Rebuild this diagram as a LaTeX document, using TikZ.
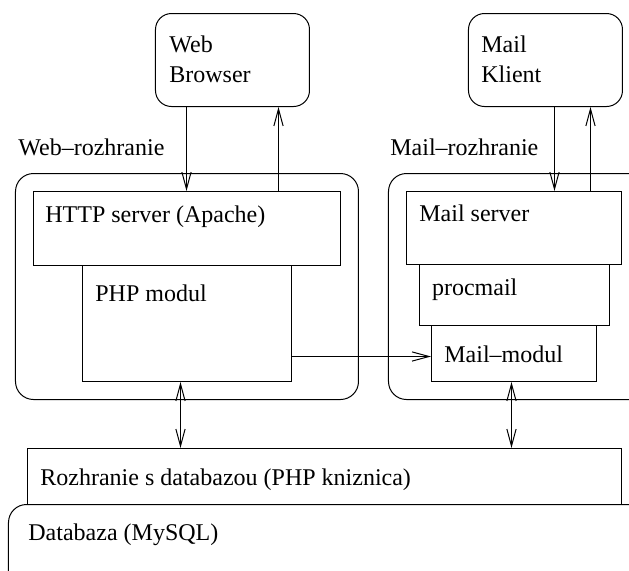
\documentclass[tikz,border=0pt]{standalone}
\usepackage{fontspec}
\setmainfont{Liberation Serif}
\usetikzlibrary{arrows.meta,fit}
\begin{document}
\begin{tikzpicture}[x=0.5pt,y=-0.5pt,
  box/.style={draw, line width=0.5pt, inner sep=0pt},
  rbox/.style={box, rounded corners=9pt},
  lbl/.style={anchor=base west, inner sep=0pt, font=\fontsize{12}{15}\selectfont},
  onearrow/.style={-{Straight Barb[length=8.5pt,width=4.6pt]}, line width=0.5pt},
  twoarrow/.style={{Straight Barb[length=8.5pt,width=4.6pt]}-{Straight Barb[length=8.5pt,width=4.6pt]}, line width=0.5pt}]
  % page frame; the interface and database boxes run off its edge
  \path[use as bounding box, clip] (0,0) rectangle (629,570);

  % clients
  \node[rbox, rounded corners=8pt, fit={(155.5,13.5) (309.5,106.5)}] (web) {};
  \node[rbox, rounded corners=8pt, fit={(468.5,13.5) (622.5,106.5)}] (klient) {};
  \node[lbl] (webT1) at (169,52) {Web};
  \node[lbl] (webT2) at (169,82) {Browser};
  \node[lbl] (klT1) at (481,52) {Mail};
  \node[lbl] (klT2) at (481,82) {Klient};

  % web interface
  \node[lbl] (webifT) at (18,155) {Web–rozhranie};
  \node[rbox, fit={(15.5,173.5) (358.5,399.5)}] (webif) {};
  \node[box, fit={(33.5,191.5) (340.5,265.5)}] (http) {};
  \node[box, fit={(82.5,265.5) (291.5,381.5)}] (php) {};
  \node[lbl] (httpT) at (45,222.7) {HTTP server (Apache)};
  \node[lbl] (phpT) at (95,301.7) {PHP modul};

  % mail interface
  \node[lbl] (mailifT) at (390,155) {Mail–rozhranie};
  \node[rbox, fit={(388.5,173.5) (660,399.5)}] (mailif) {};
  \node[box, fit={(406.5,191.5) (621.5,264.5)}] (mailsrv) {};
  \node[box, fit={(419.5,264.5) (609.5,325.5)}] (procmail) {};
  \node[box, fit={(431.5,325.5) (596.5,381.5)}] (mailmod) {};
  \node[lbl] (mailsrvT) at (419,221.7) {Mail server};
  \node[lbl] (procmailT) at (431.7,295) {procmail};
  \node[lbl] (mailmodT) at (444,362.7) {Mail–modul};

  % database layer
  \node[box, fit={(27.5,448.5) (621.5,504.5)}] (rozh) {};
  \node[rbox, fit={(8.5,504.5) (680,640)}] (db) {};
  \node[lbl] (rozhT) at (40,485) {Rozhranie s databazou (PHP kniznica)};
  \node[lbl] (dbT) at (28,540) {Databaza (MySQL)};

  % connector positions
  \coordinate (xwd) at (186.5,0);
  \coordinate (xwu) at (278.5,0);
  \coordinate (xmd) at (554.5,0);
  \coordinate (xmu) at (590.5,0);
  \coordinate (xpd) at (180.5,0);
  \coordinate (xmm) at (511.5,0);
  \coordinate (ypm) at (0,356.5);

  % connectors
  \draw[onearrow] (web.south -| xwd) -- (http.north -| xwd);
  \draw[onearrow] (http.north -| xwu) -- (web.south -| xwu);
  \draw[onearrow] (klient.south -| xmd) -- (mailsrv.north -| xmd);
  \draw[onearrow] (mailsrv.north -| xmu) -- (klient.south -| xmu);
  \draw[onearrow] (php.east |- ypm) -- (mailmod.west |- ypm);
  \draw[twoarrow] (php.south -| xpd) -- (rozh.north -| xpd);
  \draw[twoarrow] (mailmod.south -| xmm) -- (rozh.north -| xmm);
\end{tikzpicture}
\end{document}
